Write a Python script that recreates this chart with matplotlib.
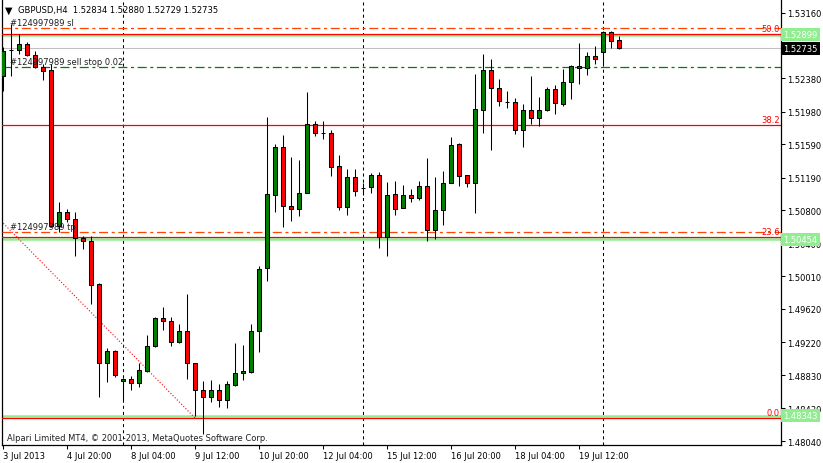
import numpy as np
import matplotlib
matplotlib.use('Agg')
import matplotlib.pyplot as plt
import matplotlib.transforms as mtransforms


symbol_info = 'GBPUSD,H4  1.52834 1.52880 1.52729 1.52735'
footer = 'Alpari Limited MT4, \u00a9 2001-2013, MetaQuotes Software Corp.'

opens = [1.52410, 1.52717, 1.52721, 1.52789, 1.52657, 1.52510, 1.52481, 1.50616, 1.50776, 1.50696,
         1.50469, 1.50433, 1.49918, 1.48970, 1.49114, 1.48755, 1.48782, 1.48731, 1.48881, 1.49181,
         1.49512, 1.49480, 1.49221, 1.49353, 1.48970, 1.48651, 1.48563, 1.48651, 1.48535, 1.48714,
         1.48850, 1.48870, 1.49353, 1.50106, 1.50986, 1.51553, 1.50851, 1.50812, 1.51003, 1.51832,
         1.51724, 1.51724, 1.51326, 1.50836, 1.51195, 1.51067, 1.51075, 1.51222, 1.50484, 1.50991,
         1.50824, 1.50983, 1.50943, 1.51087, 1.50568, 1.50800, 1.51123, 1.51593, 1.51219, 1.51123,
         1.51996, 1.52474, 1.52259, 1.52099, 1.52092, 1.51757, 1.51996, 1.51900, 1.51996, 1.52247,
         1.52071, 1.52331, 1.52522, 1.52498, 1.52642, 1.52690, 1.52929, 1.52834]
highs = [1.52753, 1.53028, 1.52908, 1.52813, 1.52709, 1.52550, 1.52550, 1.50903, 1.50815, 1.50783,
         1.50496, 1.50489, 1.49930, 1.49153, 1.49129, 1.48794, 1.48822, 1.48974, 1.49308, 1.49527,
         1.49647, 1.49520, 1.49440, 1.49799, 1.48974, 1.48762, 1.48770, 1.48728, 1.48755, 1.49213,
         1.49189, 1.49440, 1.50130, 1.51919, 1.51593, 1.51700, 1.51434, 1.51401, 1.52211, 1.51864,
         1.51864, 1.51760, 1.51461, 1.51294, 1.51294, 1.51126, 1.51246, 1.51262, 1.51135, 1.51147,
         1.51099, 1.51055, 1.51154, 1.51425, 1.51198, 1.51274, 1.51677, 1.51605, 1.51222, 1.52430,
         1.52669, 1.52609, 1.52370, 1.52227, 1.52143, 1.52071, 1.52406, 1.52155, 1.52278, 1.52298,
         1.52490, 1.52538, 1.52801, 1.52690, 1.52761, 1.52948, 1.52941, 1.52880]
lows = [1.52230, 1.52410, 1.52669, 1.52645, 1.52502, 1.52362, 1.50600, 1.50540, 1.50664, 1.50257,
        1.50337, 1.49679, 1.48571, 1.48750, 1.48810, 1.48531, 1.48654, 1.48690, 1.48870, 1.49169,
        1.49372, 1.49181, 1.49216, 1.48782, 1.48343, 1.48124, 1.48513, 1.48444, 1.48432, 1.48695,
        1.48774, 1.48854, 1.49102, 1.49958, 1.50783, 1.50597, 1.50676, 1.50728, 1.51001, 1.51692,
        1.51653, 1.51214, 1.50807, 1.50744, 1.50967, 1.50983, 1.51007, 1.50349, 1.50257, 1.50744,
        1.50822, 1.50896, 1.50927, 1.50436, 1.50457, 1.50624, 1.51121, 1.51094, 1.51075, 1.50771,
        1.51728, 1.51525, 1.52051, 1.52027, 1.51712, 1.51557, 1.51832, 1.51805, 1.51993, 1.51952,
        1.52051, 1.52131, 1.52310, 1.52422, 1.52550, 1.52550, 1.52741, 1.52729]
closes = [1.52709, 1.52717, 1.52789, 1.52657, 1.52510, 1.52469, 1.50616, 1.50776, 1.50696, 1.50465,
          1.50429, 1.49910, 1.48970, 1.49117, 1.48834, 1.48782, 1.48731, 1.48890, 1.49181, 1.49512,
          1.49480, 1.49221, 1.49353, 1.48970, 1.48651, 1.48563, 1.48651, 1.48535, 1.48722, 1.48850,
          1.48881, 1.49353, 1.50098, 1.50995, 1.51553, 1.50848, 1.50812, 1.51003, 1.51832, 1.51724,
          1.51724, 1.51321, 1.50836, 1.51195, 1.51027, 1.51067, 1.51222, 1.50484, 1.50983, 1.50812,
          1.50983, 1.50943, 1.51087, 1.50568, 1.50800, 1.51123, 1.51581, 1.51207, 1.51123, 1.52008,
          1.52474, 1.52259, 1.52104, 1.52099, 1.51757, 1.51996, 1.51900, 1.51996, 1.52247, 1.52080,
          1.52331, 1.52522, 1.52498, 1.52642, 1.52606, 1.52929, 1.52821, 1.52735]

time_labels = ['3 Jul 2013', '4 Jul 20:00', '8 Jul 04:00', '9 Jul 12:00', '10 Jul 20:00',
               '12 Jul 04:00', '15 Jul 12:00', '16 Jul 20:00', '18 Jul 04:00', '19 Jul 12:00']
time_label_bars = [0, 8, 16, 24, 32, 40, 48, 56, 64, 72]
week_start_bars = [15, 45, 75]

price_ticks = [1.53160, 1.52380, 1.51980, 1.51590, 1.51190, 1.50800, 1.50400,
               1.50010, 1.49620, 1.49220, 1.48830, 1.48430, 1.48040]

# fibonacci retracement anchors (bar index, price)
fib_start = (-70.5, 1.57500)
fib_end = (24, 1.48316)
fib_levels = [0.0, 23.6, 38.2, 50.0]

order_id = '#124997989'
sl_price = 1.52981
sell_stop_price = 1.52514
tp_price = 1.50537
bid_price = 1.52735
hline_prices = [1.52899, 1.50454, 1.48343]

RED = '#ff0000'
GREEN = '#008000'
ORANGE = '#ff4500'
LIGHTGREEN = '#90ee90'
FS = 6.0


def draw_candles(ax):
    x = np.arange(len(opens))
    o = np.array(opens)
    c = np.array(closes)
    ax.vlines(x, lows, highs, color='black', lw=0.75, zorder=5)
    colors = np.where(c > o, GREEN, np.where(c < o, RED, 'black'))
    ax.bar(x, np.abs(c - o), width=0.6, bottom=np.minimum(o, c), color=colors,
           edgecolor='black', linewidth=0.75, zorder=6)


def draw_objects(ax):
    xr = mtransforms.blended_transform_factory(ax.transAxes, ax.transData)
    # horizontal lines with price labels
    for p in hline_prices:
        ax.axhline(p, color=LIGHTGREEN, lw=1.8, zorder=2)
        ax.text(1.003, p, '%.5f' % p, transform=xr, ha='left', va='center', fontsize=FS,
                color='white', clip_on=False, zorder=10,
                bbox=dict(boxstyle='square,pad=0.25', fc=LIGHTGREEN, ec='none'))
    ax.axhline(bid_price, color='#c0c0c0', lw=0.75, zorder=2)
    ax.text(1.003, bid_price, '%.5f' % bid_price, transform=xr, ha='left', va='center',
            fontsize=FS, color='white', clip_on=False, zorder=10,
            bbox=dict(boxstyle='square,pad=0.25', fc='black', ec='none'))

    # order lines
    dashdot = (6.5, 2.6, 2.2, 2.6)
    for p, col, txt in [(sl_price, ORANGE, order_id + ' sl'),
                        (sell_stop_price, GREEN, order_id + ' sell stop 0.02'),
                        (tp_price, ORANGE, order_id + ' tp')]:
        ax.axhline(p, color=col, lw=0.9, dashes=dashdot, zorder=3)
        ax.annotate(txt, (0.01, p), xycoords=xr, xytext=(0, 1), textcoords='offset points',
                    ha='left', va='bottom', fontsize=FS, color='#202020', zorder=7)

    # fibonacci
    lo, hi = fib_end[1], fib_start[1]
    for lv in fib_levels:
        p = lo + (hi - lo) * lv / 100.0
        ax.axhline(p, color=RED, lw=0.9, zorder=3)
        ax.annotate('%.1f' % lv, (0.9985, p), xycoords=xr, xytext=(0, 0.5),
                    textcoords='offset points', ha='right', va='bottom',
                    fontsize=FS, color=RED, zorder=7)
    ax.plot([fib_start[0], fib_end[0]], [fib_start[1], fib_end[1]], color=RED, lw=0.8,
            dashes=(0.8, 1.4), zorder=3)

    # period separators
    for b in week_start_bars:
        ax.axvline(b, color='black', lw=0.75, dashes=(2.2, 2.2), zorder=1)


def main():
    plt.rcParams['lines.scale_dashes'] = False
    plt.rcParams['font.family'] = ['DejaVu Sans']
    fig = plt.figure(figsize=(8.23, 4.64), dpi=100)
    ax = fig.add_axes([2 / 823, 18 / 464, 779 / 823, 446 / 464])
    ax.set_facecolor('white')

    draw_candles(ax)
    draw_objects(ax)

    ax.set_xlim(-0.125, 97.25)
    ax.set_ylim(1.47993, 1.53327)

    ax.yaxis.tick_right()
    ax.set_yticks(price_ticks)
    ax.set_yticklabels(['%.5f' % p for p in price_ticks])
    ax.set_xticks(time_label_bars)
    ax.set_xticklabels(time_labels, ha='left')
    ax.tick_params(axis='both', labelsize=FS, length=3, width=0.75, direction='out',
                   colors='black', pad=1)
    ax.tick_params(axis='y', left=False, right=True, pad=1.2)
    ax.spines['top'].set_visible(False)
    for s in ['left', 'right', 'bottom']:
        ax.spines[s].set_linewidth(0.9)

    fig.text(18 / 823, 1 - 11 / 464, symbol_info, fontsize=FS, va='center', ha='left')
    fig.text(5 / 823, 1 - 11 / 464, '\u25bc', fontsize=FS + 1, va='center', ha='left')
    fig.text(7 / 823, 1 - 439 / 464, footer, fontsize=FS, va='center', ha='left',
             color='#202020')

    fig.savefig('out.png', dpi=100)


if __name__ == '__main__':
    main()
